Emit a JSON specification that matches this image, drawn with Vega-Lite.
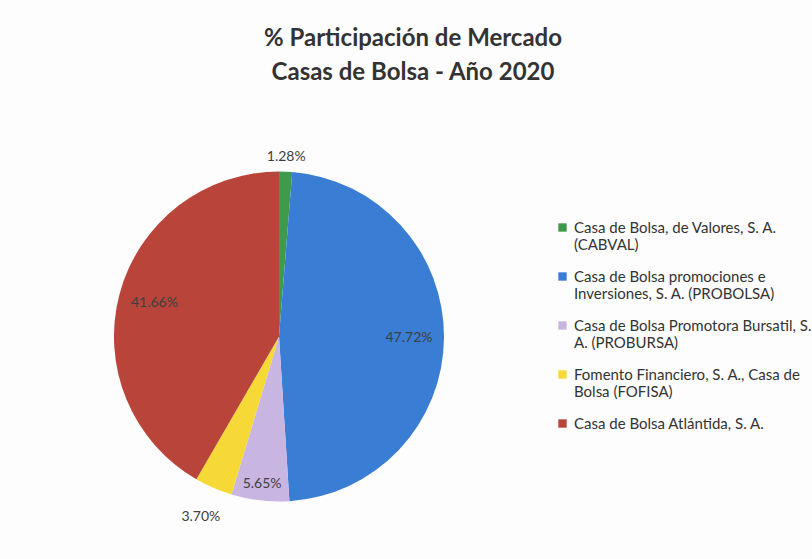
{
  "$schema": "https://vega.github.io/schema/vega-lite/v6.json",
  "autosize": {"type": "fit", "contains": "padding"},
  "width": 812,
  "height": 559,
  "padding": {"left": 14, "top": 27, "right": 0, "bottom": 0},
  "background": "#fdfdfd",
  "title": {
    "text": ["% Participación de Mercado", "Casas de Bolsa - Año 2020"],
    "font": "Lato",
    "fontSize": 24,
    "fontWeight": "bold",
    "color": "#333333",
    "lineHeight": 34,
    "anchor": "middle",
    "frame": "bounds",
    "offset": 29
  },
  "data": {
    "values": [
      {"orden": 1, "casa": "Casa de Bolsa, de Valores, S. A.\n(CABVAL)", "pct": 1.28, "etiqueta": "1.28%"},
      {"orden": 2, "casa": "Casa de Bolsa promociones e\nInversiones, S. A. (PROBOLSA)", "pct": 47.72, "etiqueta": "47.72%"},
      {"orden": 3, "casa": "Casa de Bolsa Promotora Bursatil, S.\nA. (PROBURSA)", "pct": 5.65, "etiqueta": "5.65%"},
      {"orden": 4, "casa": "Fomento Financiero, S. A., Casa de\nBolsa (FOFISA)", "pct": 3.70, "etiqueta": "3.70%"},
      {"orden": 5, "casa": "Casa de Bolsa Atlántida, S. A.", "pct": 41.66, "etiqueta": "41.66%"}
    ]
  },
  "encoding": {
    "theta": {"field": "pct", "type": "quantitative", "stack": true},
    "order": {"field": "orden", "type": "quantitative"}
  },
  "layer": [
    {
      "mark": {"type": "arc", "outerRadius": 165},
      "encoding": {
        "color": {
          "field": "casa",
          "type": "nominal",
          "sort": {"field": "orden"},
          "scale": {
            "range": ["#3e9a4c", "#3a7dd5", "#c9b5e2", "#f6d836", "#b9443a"]
          },
          "legend": {
            "title": " ",
            "titleFontSize": 2,
            "titlePadding": 104,
            "orient": "right",
            "offset": 11,
            "labelExpr": "split(datum.label, '\\n')",
            "labelFont": "Lato",
            "labelFontSize": 15,
            "labelColor": "#333333",
            "labelLimit": 300,
            "symbolType": "square",
            "symbolSize": 70,
            "symbolStrokeWidth": 0,
            "rowPadding": 16
          }
        }
      }
    },
    {
      "mark": {"type": "text", "radius": 180, "font": "Lato", "fontSize": 14, "color": "#404040"},
      "encoding": {"text": {"condition": {"test": "datum.orden === 1", "field": "etiqueta"}, "value": ""}}
    },
    {
      "mark": {"type": "text", "radius": 130, "font": "Lato", "fontSize": 14, "color": "#404040"},
      "encoding": {"text": {"condition": {"test": "datum.orden === 2", "field": "etiqueta"}, "value": ""}}
    },
    {
      "mark": {"type": "text", "radius": 148, "font": "Lato", "fontSize": 14, "color": "#404040"},
      "encoding": {"text": {"condition": {"test": "datum.orden === 3", "field": "etiqueta"}, "value": ""}}
    },
    {
      "mark": {"type": "text", "radius": 197, "font": "Lato", "fontSize": 14, "color": "#404040"},
      "encoding": {"text": {"condition": {"test": "datum.orden === 4", "field": "etiqueta"}, "value": ""}}
    },
    {
      "mark": {"type": "text", "radius": 129, "font": "Lato", "fontSize": 14, "color": "#404040"},
      "encoding": {"text": {"condition": {"test": "datum.orden === 5", "field": "etiqueta"}, "value": ""}}
    }
  ],
  "config": {
    "view": {"stroke": null}
  }
}
